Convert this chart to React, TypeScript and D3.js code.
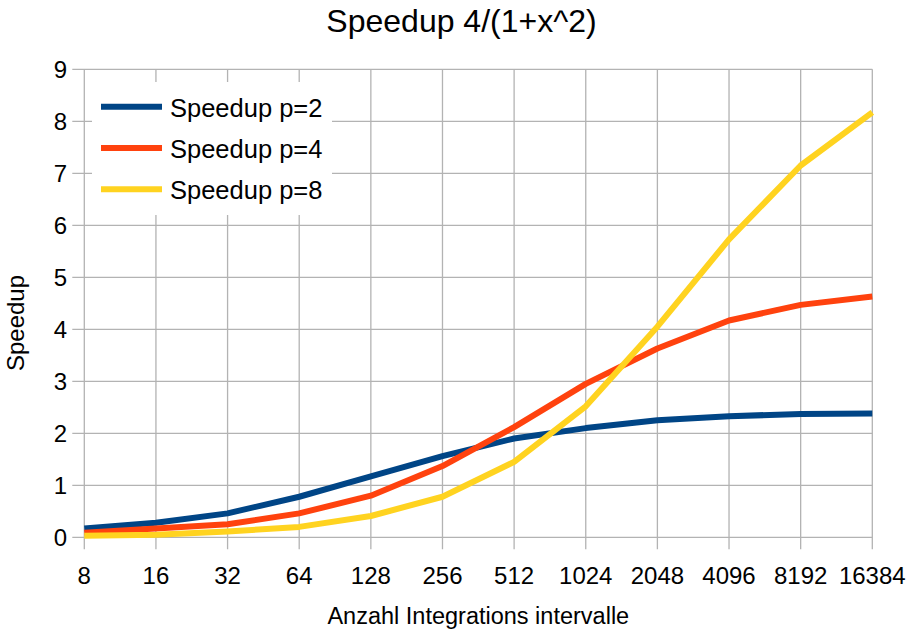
import React from "react";
import * as d3 from "d3";

const categories = ["8", "16", "32", "64", "128", "256", "512", "1024", "2048", "4096", "8192", "16384"];
const speedupP2 = [0.17, 0.28, 0.46, 0.78, 1.17, 1.56, 1.9, 2.1, 2.25, 2.33, 2.37, 2.38];
const speedupP4 = [0.09, 0.17, 0.25, 0.46, 0.8, 1.37, 2.12, 2.95, 3.63, 4.17, 4.47, 4.63];
const speedupP8 = [0.03, 0.05, 0.11, 0.2, 0.41, 0.78, 1.45, 2.52, 4.05, 5.73, 7.15, 8.17];
const yTicks = [0, 1, 2, 3, 4, 5, 6, 7, 8, 9];
const seriesNames = ["Speedup p=2", "Speedup p=4", "Speedup p=8"];
const seriesColors = ["#004586", "#ff420e", "#ffd320"];
const title = "Speedup 4/(1+x^2)";
const xTitle = "Anzahl Integrations intervalle";
const yTitle = "Speedup";

const W = 923;
const H = 633;
const left = 84.3;
const right = 872.3;
const top = 69.3;
const bottom = 537.3;
const font = "'Liberation Sans', Arial, sans-serif";
const grid = "#b3b3b3";

export default function App() {
  const x = d3.scalePoint<string>().domain(categories).range([left, right]);
  const y = d3.scaleLinear().domain([0, 9]).range([bottom, top]);
  const series = [speedupP2, speedupP4, speedupP8];
  const line = d3
    .line<number>()
    .x((_, i) => x(categories[i]) as number)
    .y((d) => y(d));

  return (
    <svg
      width={W}
      height={H}
      style={{ position: "absolute", left: 0, top: 0, background: "#fff" }}
      fontFamily={font}
    >
      <rect x={0} y={0} width={W} height={H} fill="#fff" />
      <text x={W / 2} y={32} textAnchor="middle" fontSize={32} fill="#000">
        {title}
      </text>
      {/* horizontal grid */}
      {yTicks.map((t) => (
        <line key={"h" + t} x1={left - 12} x2={right} y1={y(t)} y2={y(t)} stroke={grid} strokeWidth={1.3} />
      ))}
      {/* vertical grid */}
      {categories.map((c) => (
        <line key={"v" + c} x1={x(c)} x2={x(c)} y1={top} y2={bottom + 12} stroke={grid} strokeWidth={1.3} />
      ))}
      {yTicks.map((t) => (
        <text key={"yl" + t} x={67} y={y(t) + 8.7} textAnchor="end" fontSize={24} fill="#000">
          {t}
        </text>
      ))}
      {categories.map((c) => (
        <text key={"xl" + c} x={x(c)} y={584} textAnchor="middle" fontSize={24} fill="#000">
          {c}
        </text>
      ))}
      {series.map((s, i) => (
        <path
          key={"s" + i}
          d={line(s) || ""}
          fill="none"
          stroke={seriesColors[i]}
          strokeWidth={6}
          strokeLinejoin="round"
        />
      ))}
      {/* legend */}
      <rect x={92} y={82} width={240} height={133} fill="#fff" />
      {seriesNames.map((n, i) => (
        <g key={"lg" + i}>
          <line
            x1={101}
            x2={162}
            y1={106.7 + i * 41.3}
            y2={106.7 + i * 41.3}
            stroke={seriesColors[i]}
            strokeWidth={6}
          />
          <text x={170} y={116.5 + i * 41} fontSize={25.5} fill="#000">
            {n}
          </text>
        </g>
      ))}
      <text x={(left + right) / 2} y={624} textAnchor="middle" fontSize={23.5} fill="#000">
        {xTitle}
      </text>
      <text
        transform={`translate(23.5, 323) rotate(-90)`}
        textAnchor="middle"
        fontSize={24}
        fill="#000"
      >
        {yTitle}
      </text>
    </svg>
  );
}
